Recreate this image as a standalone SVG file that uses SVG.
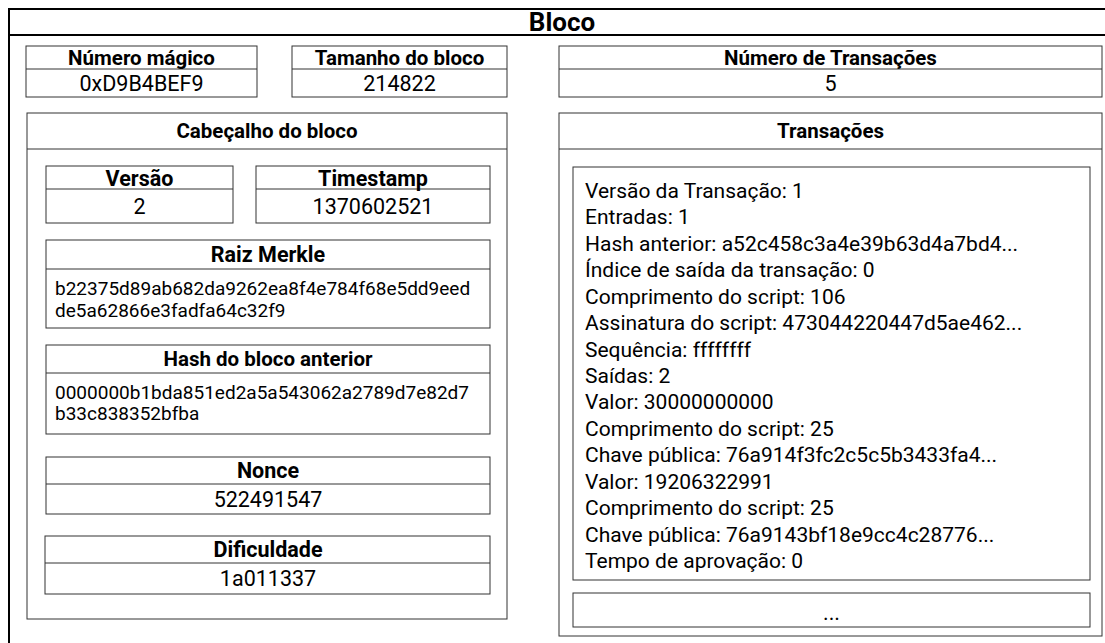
<svg xmlns="http://www.w3.org/2000/svg" width="1105" height="643" viewBox="0 0 1105 643">
<style>
.box{fill:#fff;stroke:#333;stroke-width:1}
.div{stroke:#333;stroke-width:1}
.frame{fill:#fff;stroke:#000;stroke-width:2}
text{font-family:Roboto,"Liberation Sans",sans-serif;fill:#000}
.t{font-weight:bold;font-size:26px;text-anchor:middle}
.h{font-weight:bold;font-size:20.5px;text-anchor:middle}
.hi{font-weight:bold;font-size:21.5px;text-anchor:middle}
.hs{font-weight:bold;font-size:20.5px;text-anchor:middle}
.v{font-size:21.5px;text-anchor:middle}
.hx{font-size:19px}
.tx{font-size:21px}
</style>
<g id="bloco">
<rect class="frame" x="9" y="9" width="1110" height="650"/>
<line x1="9" y1="35" x2="1105" y2="35" stroke="#000" stroke-width="2"/>
<text class="t" x="562" y="31">Bloco</text>
</g>
<g id="numero-magico">
<rect class="box" x="26" y="46" width="231" height="51"/>
<line class="div" x1="26" y1="69" x2="257" y2="69"/>
<text class="h" x="141.5" y="65">Número mágico</text>
<text class="v" x="141.5" y="91">0xD9B4BEF9</text>
</g>
<g id="tamanho-bloco">
<rect class="box" x="292" y="46" width="215" height="51"/>
<line class="div" x1="292" y1="69" x2="507" y2="69"/>
<text class="h" x="399.5" y="65">Tamanho do bloco</text>
<text class="v" x="399.5" y="91">214822</text>
</g>
<g id="numero-transacoes">
<rect class="box" x="559" y="46" width="543" height="51"/>
<line class="div" x1="559" y1="69" x2="1102" y2="69"/>
<text class="h" x="830.5" y="65">Número de Transações</text>
<text class="v" x="830.5" y="91">5</text>
</g>
<g id="cabecalho">
<rect class="box" x="27" y="113" width="480" height="506"/>
<line class="div" x1="27" y1="149" x2="507" y2="149"/>
<text class="hs" x="267" y="138">Cabeçalho do bloco</text>
</g>
<g id="versao">
<rect class="box" x="46" y="166" width="187" height="57"/>
<line class="div" x1="46" y1="189" x2="233" y2="189"/>
<text class="hi" x="139.5" y="185.5">Versão</text>
<text class="v" x="139.5" y="213.5">2</text>
</g>
<g id="timestamp">
<rect class="box" x="256" y="166" width="234" height="57"/>
<line class="div" x1="256" y1="189" x2="490" y2="189"/>
<text class="hi" x="373" y="185.5">Timestamp</text>
<text class="v" x="373" y="213.5">1370602521</text>
</g>
<g id="raiz-merkle">
<rect class="box" x="46" y="240" width="444" height="88"/>
<line class="div" x1="46" y1="269" x2="490" y2="269"/>
<text class="hi" x="268" y="262">Raiz Merkle</text>
<text class="hx" x="55" y="295">b22375d89ab682da9262ea8f4e784f68e5dd9eed</text>
<text class="hx" x="55" y="317">de5a62866e3fadfa64c32f9</text>
</g>
<g id="hash-anterior">
<rect class="box" x="46" y="345" width="444" height="89"/>
<line class="div" x1="46" y1="373" x2="490" y2="373"/>
<text class="hs" x="268" y="366">Hash do bloco anterior</text>
<text class="hx" x="55" y="399">0000000b1bda851ed2a5a543062a2789d7e82d7</text>
<text class="hx" x="55" y="420">b33c838352bfba</text>
</g>
<g id="nonce">
<rect class="box" x="46" y="457" width="444" height="57"/>
<line class="div" x1="46" y1="484" x2="490" y2="484"/>
<text class="hi" x="268" y="478">Nonce</text>
<text class="v" x="268" y="506.5">522491547</text>
</g>
<g id="dificuldade">
<rect class="box" x="45" y="536" width="445" height="58"/>
<line class="div" x1="45" y1="563" x2="490" y2="563"/>
<text class="hi" x="268" y="557">Dificuldade</text>
<text class="v" x="268" y="586">1a011337</text>
</g>
<g id="transacoes">
<rect class="box" x="559" y="113" width="543" height="523"/>
<line class="div" x1="559" y1="149" x2="1102" y2="149"/>
<text class="hs" x="830.5" y="138">Transações</text>
</g>
<g id="transacao-1">
<rect class="box" x="573" y="167" width="517" height="413"/>
<text class="tx" x="585" y="198">Versão da Transação: 1</text>
<text class="tx" x="585" y="224.4">Entradas: 1</text>
<text class="tx" x="585" y="250.9">Hash anterior: a52c458c3a4e39b63d4a7bd4...</text>
<text class="tx" x="585" y="277.3">Índice de saída da transação: 0</text>
<text class="tx" x="585" y="303.7">Comprimento do script: 106</text>
<text class="tx" x="585" y="330.1">Assinatura do script: 473044220447d5ae462...</text>
<text class="tx" x="585" y="356.6">Sequência: ffffffff</text>
<text class="tx" x="585" y="383">Saídas: 2</text>
<text class="tx" x="585" y="409.4">Valor: 30000000000</text>
<text class="tx" x="585" y="435.9">Comprimento do script: 25</text>
<text class="tx" x="585" y="462.3">Chave pública: 76a914f3fc2c5c5b3433fa4...</text>
<text class="tx" x="585" y="488.7">Valor: 19206322991</text>
<text class="tx" x="585" y="515.1">Comprimento do script: 25</text>
<text class="tx" x="585" y="541.6">Chave pública: 76a9143bf18e9cc4c28776...</text>
<text class="tx" x="585" y="568">Tempo de aprovação: 0</text>
</g>
<g id="mais-transacoes">
<rect class="box" x="573" y="593" width="517" height="34"/>
<text class="v" x="831.5" y="620">...</text>
</g>
<g id="connectors"></g>
</svg>
